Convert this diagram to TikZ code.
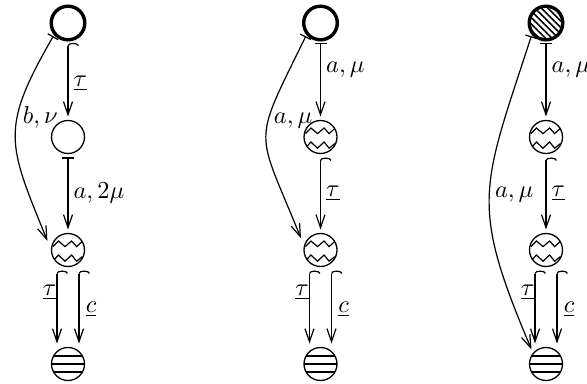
\documentclass[tikz,border=0pt]{standalone}
\usetikzlibrary{arrows.meta,patterns.meta}
\begin{document}
\begin{tikzpicture}[x=0.5pt,y=-0.5pt,
  st/.style={circle, draw, line width=0.65pt, minimum size=16.5pt, inner sep=0pt, outer sep=2pt},
  init/.style={st, line width=1.7pt, minimum size=16.8pt, outer sep=1.5pt},
  hatch/.style={init, pattern={Lines[angle=-45,distance=2.3pt,line width=0.8pt]}},
  zig/.style={st, path picture={
    \begin{scope}[shift={(path picture bounding box.center)}]
      \draw[line width=0.6pt] (-7.5pt,1.7pt) -- (-4.8pt,4.5pt) -- (-1.5pt,1.7pt) -- (1.8pt,4.5pt) -- (4.3pt,1.7pt) -- (7.2pt,4.3pt);
      \draw[line width=0.6pt] (-7.5pt,-5.5pt) -- (-4.8pt,-2.5pt) -- (-1.5pt,-5.6pt) -- (1.8pt,-2.5pt) -- (4.3pt,-5.6pt) -- (7.2pt,-3.3pt);
    \end{scope}}},
  stripe/.style={st, path picture={
    \begin{scope}[shift={(path picture bounding box.center)}]
      \foreach \yy in {-4,0,4} \draw[line width=0.6pt] (-9pt,\yy pt) -- (9pt,\yy pt);
    \end{scope}}},
  barr/.style={{Bar[width=6pt]}-{Straight Barb[length=6.5pt,width=4.5pt]}, line width=0.6pt},
  hookr/.style={{Hooks[harpoon,swap,width=11pt]}-{Straight Barb[length=6.5pt,width=4.5pt]}, line width=0.6pt},
  lab/.style={scale=1.22, inner sep=2pt},
]
\useasboundingbox (0,0) rectangle (587,384);
% column 1
\node[init] (t1) at (68,23) {};
\node[st] (s1) at (68,137) {};
\node[zig] (z1) at (68,250) {};
\node[stripe] (b1) at (68,364) {};
% column 2
\node[init] (t2) at (320.5,23) {};
\node[zig] (u2) at (320.5,137) {};
\node[zig] (z2) at (320.5,250) {};
\node[stripe] (b2) at (320.5,364) {};
% column 3
\node[hatch] (t3) at (546,23) {};
\node[zig] (u3) at (546,137) {};
\node[zig] (z3) at (546,250) {};
\node[stripe] (b3) at (546,364) {};

% column 1 connectors
\draw[hookr] (t1) -- (s1) node[lab, right, pos=0.55] {$\underline{\tau}$};
\draw[barr] (s1) -- (z1) node[lab, right, pos=0.5] {$a,2\mu$};
\draw[barr, shorten >=1.5pt] (t1.222) .. controls +(240:54pt) and +(112:54pt) .. (z1.162) node[lab, right, pos=0.38] {$b,\nu$};
\draw[hookr] ([xshift=-5.5pt]z1.south) -- ([xshift=-5.5pt]b1.north) node[lab, left, pos=0.3, inner sep=0pt] {$\underline{\tau}$};
\draw[hookr] ([xshift=5.5pt]z1.south) -- ([xshift=5.5pt]b1.north) node[lab, right, pos=0.53, inner sep=2.5pt] {$\underline{c}$};

% column 2 connectors
\draw[barr] (t2) -- (u2) node[lab, right, pos=0.37] {$a,\mu$};
\draw[barr, shorten >=1.5pt] (t2.222) .. controls +(244:62pt) and +(112:62pt) .. (z2.154) node[lab, right, pos=0.38] {$a,\mu$};
\draw[hookr] (u2) -- (z2) node[lab, right, pos=0.5] {$\underline{\tau}$};
\draw[hookr] ([xshift=-5.5pt]z2.south) -- ([xshift=-5.5pt]b2.north) node[lab, left, pos=0.3, inner sep=0pt] {$\underline{\tau}$};
\draw[hookr] ([xshift=5.5pt]z2.south) -- ([xshift=5.5pt]b2.north) node[lab, right, pos=0.53, inner sep=2.5pt] {$\underline{c}$};

% column 3 connectors
\draw[barr] (t3) -- (u3) node[lab, right, pos=0.37] {$a,\mu$};
\draw[barr] (t3.222) .. controls +(252:80pt) and +(113:80pt) .. (b3.135) node[lab, right, pos=0.5] {$a,\mu$};
\draw[hookr] (u3) -- (z3) node[lab, right, pos=0.5] {$\underline{\tau}$};
\draw[hookr] ([xshift=-5.5pt]z3.south) -- ([xshift=-5.5pt]b3.north) node[lab, left, pos=0.3, inner sep=0pt] {$\underline{\tau}$};
\draw[hookr] ([xshift=5.5pt]z3.south) -- ([xshift=5.5pt]b3.north) node[lab, right, pos=0.53, inner sep=2.5pt] {$\underline{c}$};
\end{tikzpicture}
\end{document}
